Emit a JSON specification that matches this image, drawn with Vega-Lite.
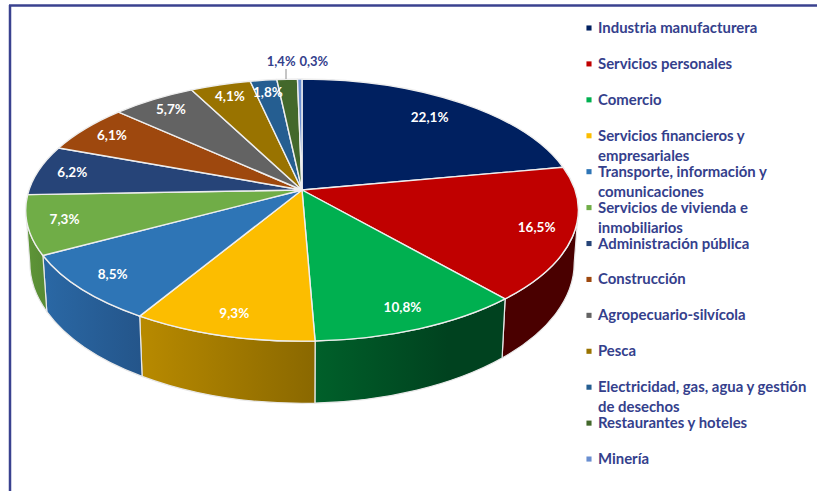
{
"$schema":"https://vega.github.io/schema/vega-lite/v6.json",
"width":817,"height":491,"padding":0,
"autosize":{"type":"fit","contains":"padding"},
"background":"white",
"config":{"view":{"stroke":null},"text":{"font":"Lato"}},
"data":{"values":[
{"rank":1,"name":"Industria manufacturera","pct":22.1},
{"rank":2,"name":"Servicios personales","pct":16.5},
{"rank":3,"name":"Comercio","pct":10.8},
{"rank":4,"name":"Servicios financieros y|empresariales","pct":9.3},
{"rank":5,"name":"Transporte, información y|comunicaciones","pct":8.5},
{"rank":6,"name":"Servicios de vivienda e|inmobiliarios","pct":7.3},
{"rank":7,"name":"Administración pública","pct":6.2},
{"rank":8,"name":"Construcción","pct":6.1},
{"rank":9,"name":"Agropecuario-silvícola","pct":5.7},
{"rank":10,"name":"Pesca","pct":4.1},
{"rank":11,"name":"Electricidad, gas, agua y gestión|de desechos","pct":1.8},
{"rank":12,"name":"Restaurantes y hoteles","pct":1.4},
{"rank":13,"name":"Minería","pct":0.3}
]},
"transform":[
{"stack":"pct","groupby":[],"sort":[{"field":"rank","order":"ascending"}],"offset":"normalize","as":["f0","f1"]},
{"calculate":"2*PI*datum.f0","as":"a0"},
{"calculate":"2*PI*datum.f1","as":"a1"},
{"calculate":"round(2730*sin(datum.a0)/(1+0.153*cos(datum.a0)))/10","as":"x0"},
{"calculate":"round(-1280*cos(datum.a0)/(1+0.153*cos(datum.a0)))/10","as":"y0"},
{"calculate":"round(2730*sin(datum.a1)/(1+0.153*cos(datum.a1)))/10","as":"x1"},
{"calculate":"round(-1280*cos(datum.a1)/(1+0.153*cos(datum.a1)))/10","as":"y1"},
{"calculate":"'M0,0L'+datum.x0+','+datum.y0+'A276.3,131,0,0,1,'+datum.x1+','+datum.y1+'Z'","as":"topPath"},
{"calculate":"max(datum.a0,1.7244)","as":"c0"},
{"calculate":"min(datum.a1,4.5588)","as":"c1"},
{"calculate":"round(2730*sin(datum.c0)/(1+0.153*cos(datum.c0)))/10","as":"sx0"},
{"calculate":"round(-1280*cos(datum.c0)/(1+0.153*cos(datum.c0)))/10","as":"sy0"},
{"calculate":"round(2730*sin(datum.c1)/(1+0.153*cos(datum.c1)))/10","as":"sx1"},
{"calculate":"round(-1280*cos(datum.c1)/(1+0.153*cos(datum.c1)))/10","as":"sy1"},
{"calculate":"'M'+datum.sx0+','+datum.sy0+'A276.3,131,0,0,1,'+datum.sx1+','+datum.sy1+'L'+round(9.85*datum.sx1)/10+','+round(10.7*datum.sy1+515)/10+'A272.2,140,0,0,0,'+round(9.85*datum.sx0)/10+','+round(10.7*datum.sy0+515)/10+'Z'","as":"sidePath"},
{"calculate":"(datum.a0+datum.a1)/2","as":"m"},
{"calculate":"datum.rank==1?0.8:0.87","as":"r"},
{"calculate":"302+273*datum.r*sin(datum.m)/(1+0.153*datum.r*cos(datum.m))","as":"lx"},
{"calculate":"190-128*datum.r*cos(datum.m)/(1+0.153*datum.r*cos(datum.m))","as":"ly"},
{"calculate":"replace(format(datum.pct,'.1f'),'.',',')+'%'","as":"lab"},
{"calculate":"302+273*sin(datum.m)/(1+0.153*cos(datum.m))+(datum.pct<1?14:-6)","as":"ox"},
{"calculate":"28+(datum.rank-1)*35.92","as":"legY"},
{"calculate":"split(datum.name,'|')","as":"lines"}
],
"layer":[
{"transform":[{"filter":"datum.rank==2"}],
 "mark":{"type":"point","filled":true,"size":4,"stroke":"#e8e8e8","strokeWidth":1.2,"opacity":1,"fill":"#4a0000"},
 "encoding":{"x":{"value":302},"y":{"value":190},"shape":{"field":"sidePath","type":"nominal","scale":null}}},
{"transform":[{"filter":"datum.rank==3"}],
 "mark":{"type":"point","filled":true,"size":4,"stroke":"#e8e8e8","strokeWidth":1.2,"opacity":1,"fill":{"gradient":"linear","x1":0,"x2":1,"y1":0,"y2":0,"stops":[{"offset":0,"color":"#00602a"},{"offset":0.7,"color":"#00421f"},{"offset":1,"color":"#00421f"}]}},
 "encoding":{"x":{"value":302},"y":{"value":190},"shape":{"field":"sidePath","type":"nominal","scale":null}}},
{"transform":[{"filter":"datum.rank==4"}],
 "mark":{"type":"point","filled":true,"size":4,"stroke":"#e8e8e8","strokeWidth":1.2,"opacity":1,"fill":{"gradient":"linear","x1":0,"x2":1,"y1":0,"y2":0,"stops":[{"offset":0,"color":"#b88a00"},{"offset":1,"color":"#8a6800"}]}},
 "encoding":{"x":{"value":302},"y":{"value":190},"shape":{"field":"sidePath","type":"nominal","scale":null}}},
{"transform":[{"filter":"datum.rank==5"}],
 "mark":{"type":"point","filled":true,"size":4,"stroke":"#e8e8e8","strokeWidth":1.2,"opacity":1,"fill":{"gradient":"linear","x1":0,"x2":1,"y1":0,"y2":0,"stops":[{"offset":0,"color":"#2a68a5"},{"offset":1,"color":"#24558a"}]}},
 "encoding":{"x":{"value":302},"y":{"value":190},"shape":{"field":"sidePath","type":"nominal","scale":null}}},
{"transform":[{"filter":"datum.rank==6"}],
 "mark":{"type":"point","filled":true,"size":4,"stroke":"#e8e8e8","strokeWidth":1.2,"opacity":1,"fill":{"gradient":"linear","x1":0,"x2":1,"y1":0,"y2":0,"stops":[{"offset":0,"color":"#5f9638"},{"offset":1,"color":"#578a34"}]}},
 "encoding":{"x":{"value":302},"y":{"value":190},"shape":{"field":"sidePath","type":"nominal","scale":null}}},
{"mark":{"type":"point","filled":true,"size":4,"stroke":"#eeeeee","strokeWidth":1.4,"opacity":1},
 "encoding":{"x":{"value":302},"y":{"value":190},
  "shape":{"field":"topPath","type":"nominal","scale":null},
  "fill":{"field":"rank","type":"ordinal","legend":null,"scale":{"domain":[1,2,3,4,5,6,7,8,9,10,11,12,13],"range":["#002060","#C00000","#00B050","#FCBD00","#2E75B6","#70AD47","#264478","#9E480E","#636363","#997300","#255E91","#43682B","#698ED0"]}}}},
{"transform":[{"filter":"datum.pct>=1.5"}],
 "mark":{"type":"text","font":"Lato","fontWeight":"bold","fontSize":13.5,"color":"white","align":"center","baseline":"middle"},
 "encoding":{"x":{"field":"lx","type":"quantitative","scale":null},"y":{"field":"ly","type":"quantitative","scale":null},"text":{"field":"lab","type":"nominal"}}},
{"transform":[{"filter":"datum.pct<1.5"}],
 "mark":{"type":"text","font":"Lato","fontWeight":"bold","fontSize":13,"color":"#34408c","align":"center","baseline":"middle"},
 "encoding":{"x":{"field":"ox","type":"quantitative","scale":null},"y":{"value":61.5},"text":{"field":"lab","type":"nominal"}}},
{"transform":[{"filter":"datum.rank==12"}],
 "mark":{"type":"rule","color":"#8c8c8c","strokeWidth":1},
 "encoding":{"x":{"value":286},"y":{"value":69},"y2":{"value":79}}},
{"mark":{"type":"point","filled":true,"shape":"square","size":26,"opacity":1},
 "encoding":{"x":{"value":589},"y":{"field":"legY","type":"quantitative","scale":null},
  "fill":{"field":"rank","type":"ordinal","legend":null,"scale":{"domain":[1,2,3,4,5,6,7,8,9,10,11,12,13],"range":["#002060","#C00000","#00B050","#FCBD00","#2E75B6","#70AD47","#264478","#9E480E","#636363","#997300","#255E91","#43682B","#698ED0"]}}}},
{"mark":{"type":"text","font":"Lato","fontWeight":"bold","fontSize":14.9,"lineHeight":20,"color":"#34408c","align":"left","baseline":"alphabetic","dy":5},
 "encoding":{"x":{"value":598},"y":{"field":"legY","type":"quantitative","scale":null},"text":{"field":"lines"}}},
{"transform":[{"filter":"datum.rank==1"}],
 "mark":{"type":"rule","color":"#3a428f","strokeWidth":2.5},
 "encoding":{"x":{"value":10},"y":{"value":5},"y2":{"value":491}}},
{"transform":[{"filter":"datum.rank==1"}],
 "mark":{"type":"rule","color":"#3a428f","strokeWidth":2.5},
 "encoding":{"x":{"value":9},"x2":{"value":817},"y":{"value":5.5}}}
]
}
